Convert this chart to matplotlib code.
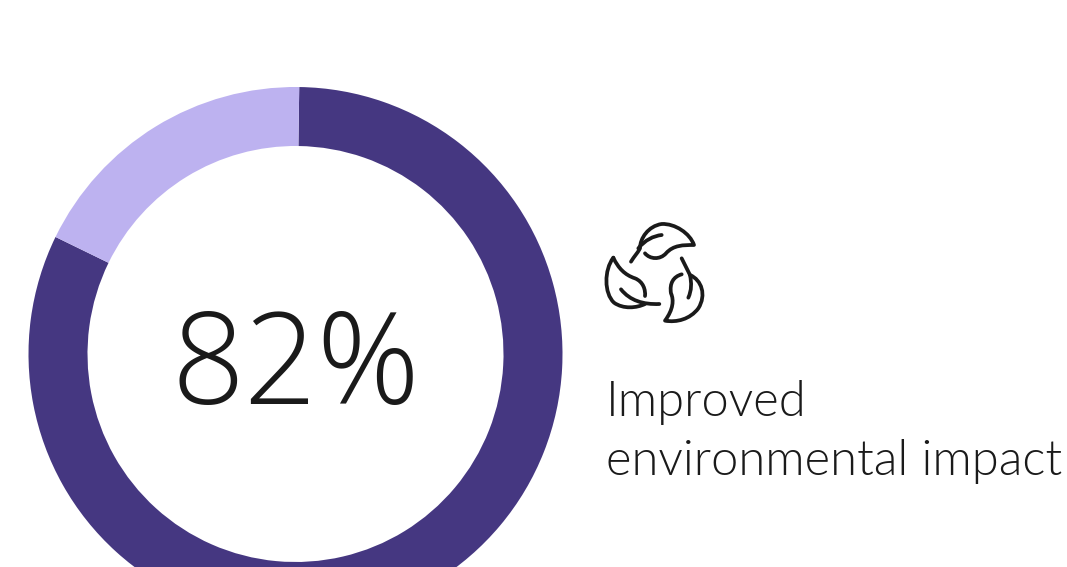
import matplotlib
matplotlib.use("Agg")
import matplotlib.pyplot as plt
from matplotlib.path import Path
from matplotlib.patches import PathPatch
from matplotlib import font_manager as fm

# Donut values: share reporting the improvement, and the remainder
segment_names = ["Improved", "Other"]
segment_values = [82, 18]
segment_colors = ["#453781", "#BDB2F0"]
headline = "82%"
caption_lines = ["Improved", "environmental impact"]

WIDTH, HEIGHT = 1067, 567


def light_face(stem, family):
    """Prefer the Light file of a family, falling back to the family's light weight."""
    for path in fm.findSystemFonts():
        name = path.rsplit("/", 1)[-1]
        if name.startswith(stem + "-Light.") or name.startswith(stem + "-Light-"):
            return fm.FontProperties(fname=path)
    return fm.FontProperties(family=family, weight="light")


fig = plt.figure(figsize=(WIDTH / 100, HEIGHT / 100), dpi=100, facecolor="white")

# Full-figure axes measured in pixels from the lower-left corner
ax = fig.add_axes([0, 0, 1, 1])
ax.pie(
    segment_values,
    colors=segment_colors,
    startangle=89.2,
    counterclock=False,
    center=(295.5, HEIGHT - 354),
    radius=267,
    wedgeprops={"width": 59, "linewidth": 0},
    frame=True,
)
ax.set_xlim(0, WIDTH)
ax.set_ylim(0, HEIGHT)
ax.set_aspect("equal")
ax.axis("off")

ink = "#1a1a1a"
headline_font = light_face("OpenSans", "Open Sans")
headline_font.set_size(92)
caption_font = light_face("Lato", "Lato")
caption_font.set_size(35.2)
ax.text(296, HEIGHT - 404, headline, ha="center", va="baseline",
        fontproperties=headline_font, color=ink)
ax.text(606, HEIGHT - 416, caption_lines[0], ha="left", va="baseline",
        fontproperties=caption_font, color=ink)
ax.text(606, HEIGHT - 475, caption_lines[1], ha="left", va="baseline",
        fontproperties=caption_font, color=ink)


def icon_stroke(points):
    """Draw one cubic-Bezier outline of the recycling-leaves icon."""
    scaled = [(590 + x / 3, HEIGHT - (210 + y / 3)) for x, y in points]
    codes = [Path.MOVETO] + [Path.CURVE4] * (len(scaled) - 1)
    ax.add_patch(PathPatch(Path(scaled, codes), fill=False, edgecolor=ink,
                           linewidth=2.7, capstyle="round", joinstyle="round"))


# Top leaf
icon_stroke([(123, 155), (132, 140), (142, 130), (150, 115),
             (150, 85), (175, 48), (215, 42),
             (255, 40), (300, 70), (312, 105),
             (280, 105), (250, 105), (228, 130),
             (210, 150), (180, 148), (165, 130)])
icon_stroke([(145, 115), (165, 90), (190, 78), (215, 75)])
# Left leaf
icon_stroke([(70, 143), (42, 180), (42, 250), (72, 278),
             (100, 298), (140, 294), (165, 282)])
icon_stroke([(70, 143), (85, 175), (105, 195), (135, 205),
             (160, 215), (167, 240), (165, 258)])
icon_stroke([(93, 238), (120, 272), (160, 284), (208, 282)])
# Right leaf
icon_stroke([(275, 145), (283, 162), (292, 178), (300, 195),
             (335, 210), (350, 255), (325, 295),
             (300, 328), (260, 338), (225, 332),
             (250, 298), (252, 270), (243, 250),
             (238, 220), (250, 200), (275, 193)])
icon_stroke([(300, 195), (305, 220), (305, 240), (295, 263)])

fig.savefig("out.png", dpi=100, facecolor="white")
